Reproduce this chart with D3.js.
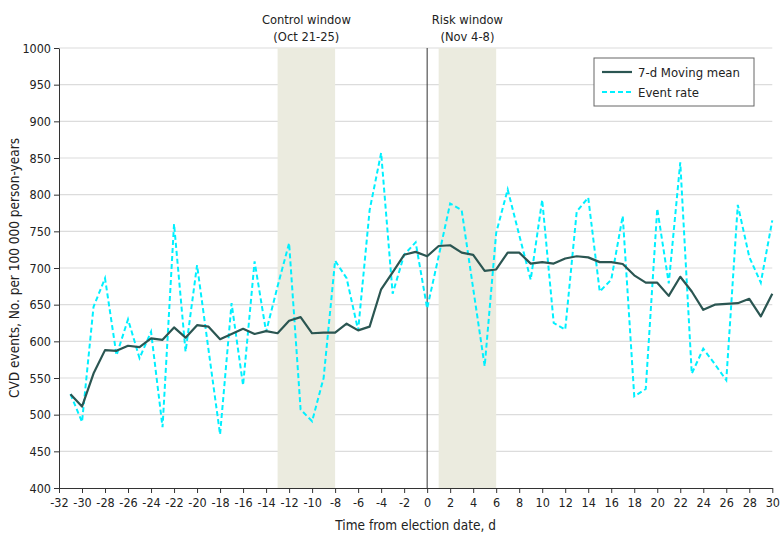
<!DOCTYPE html>
<html><head><meta charset="utf-8">
<script src="https://cdn.jsdelivr.net/npm/d3@7"></script>
<style>
body{margin:0;background:#fff;}
svg text{font-family:"DejaVu Sans Condensed","Liberation Sans Narrow",sans-serif;fill:#222;}
</style></head><body>
<svg id="chart" width="780" height="544"></svg>
<script>
const days = d3.range(-31, 31);
const movingMean = [528,511,556,588,587,594,592,604,602,619,605,622,620,603,610,617,610,614,611,628,633,611,612,612,624,615,620,671,694,718,722,716,730,731,721,718,696,698,721,721,706,708,706,713,716,714.5,708,708,705.5,690,680,680,662,688,668,643,650,651,652,658,634,665];
const eventRate = [528,490,647,686,581,630,577,613,483,760,586,704,588,473,652,540,709,613,675,734,507,491,550,710,686,615,779,857,665,718,735,645,716,788,779,672,566,748,807,745,684,793,625,616,777,796,668,684,771,525,535,781,679,844,556,590,569,547,786,715,680,765];
const xTicks = d3.range(-32, 31, 2);
const yTicks = d3.range(400, 1001, 50);
const windows = [{label:"Control window", sub:"(Oct 21-25)", from:-13, to:-8},{label:"Risk window", sub:"(Nov 4-8)", from:1, to:6}];
const legendItems = [{name:"7-d Moving mean", key:"mean"},{name:"Event rate", key:"rate"}];

const svg = d3.select("#chart");
const x = d3.scaleLinear().domain([-32,30]).range([59, 772.3]);
const y = d3.scaleLinear().domain([400,1000]).range([488, 48]);

// gridlines
svg.append("g").selectAll("line").data(yTicks.filter(v=>v>400)).join("line")
  .attr("x1", x(-32)).attr("x2", x(30)).attr("y1", d=>y(d)).attr("y2", d=>y(d))
  .attr("stroke","#dcdcdc").attr("stroke-width",1.2);

// shaded windows
svg.append("g").selectAll("rect").data(windows).join("rect")
  .attr("x", d=>x(d.from)).attr("width", d=>x(d.to)-x(d.from))
  .attr("y", y(1000)).attr("height", y(400)-y(1000))
  .attr("fill","#ebebdf");

// window labels
const wl = svg.append("g").selectAll("g").data(windows).join("g")
  .attr("transform", d=>`translate(${(x(d.from)+x(d.to))/2},0)`);
wl.append("text").attr("y",24).attr("text-anchor","middle").attr("font-size",12.8).text(d=>d.label);
wl.append("text").attr("y",41).attr("text-anchor","middle").attr("font-size",12.8).text(d=>d.sub);

// zero line
svg.append("line").attr("x1",x(0)).attr("x2",x(0)).attr("y1",y(1000)).attr("y2",y(400))
  .attr("stroke","#333").attr("stroke-width",1);

// axes
const xAxis = svg.append("g").attr("transform",`translate(0,${y(400)})`)
  .call(d3.axisBottom(x).tickValues(xTicks).tickSize(5).tickSizeOuter(0).tickFormat(d=>String(d)));
xAxis.selectAll("text").attr("font-size",12.5).attr("dy","0.85em");
xAxis.select(".domain").attr("stroke","#333");
xAxis.selectAll(".tick line").attr("stroke","#333");

const yAxis = svg.append("g").attr("transform",`translate(${x(-32)},0)`)
  .call(d3.axisLeft(y).tickValues(yTicks).tickSize(5).tickSizeOuter(0).tickFormat(d=>String(d)));
yAxis.selectAll("text").attr("font-size",12.5);
yAxis.select(".domain").attr("stroke","#333");
yAxis.selectAll(".tick line").attr("stroke","#333");

// axis titles
svg.append("text").attr("x",(x(-32)+x(30))/2).attr("y",530).attr("text-anchor","middle")
  .attr("font-size",13.5).text("Time from election date, d");
svg.append("text").attr("transform",`translate(14,${(y(400)+y(1000))/2}) rotate(-90)`)
  .attr("text-anchor","middle").attr("font-size",13.5).attr("dy","0.35em")
  .text("CVD events, No. per 100 000 person-years");

// lines
const line = d3.line().x((d,i)=>x(days[i])).y(d=>y(d));
svg.append("path").datum(eventRate).attr("d",line).attr("fill","none")
  .attr("stroke","#00f0ff").attr("stroke-width",2).attr("stroke-dasharray","5,3");
svg.append("path").datum(movingMean).attr("d",line).attr("fill","none")
  .attr("stroke","#2b5652").attr("stroke-width",2.2).attr("stroke-linejoin","round");

// legend
const lg = svg.append("g").attr("transform","translate(594,58)");
lg.append("rect").attr("width",160).attr("height",48).attr("fill","#fff").attr("stroke","#666").attr("stroke-width",1);
const li = lg.selectAll("g").data(legendItems).join("g").attr("transform",(d,i)=>`translate(0,${14+i*20})`);
li.append("line").attr("x1",8).attr("x2",38).attr("y1",0).attr("y2",0)
  .attr("stroke",d=>d.key==="mean"?"#2b5652":"#00f0ff").attr("stroke-width",2.2)
  .attr("stroke-dasharray",d=>d.key==="mean"?null:"5,3");
li.append("text").attr("x",44).attr("dy","0.35em").attr("font-size",13).text(d=>d.name);
</script>
</body></html>
